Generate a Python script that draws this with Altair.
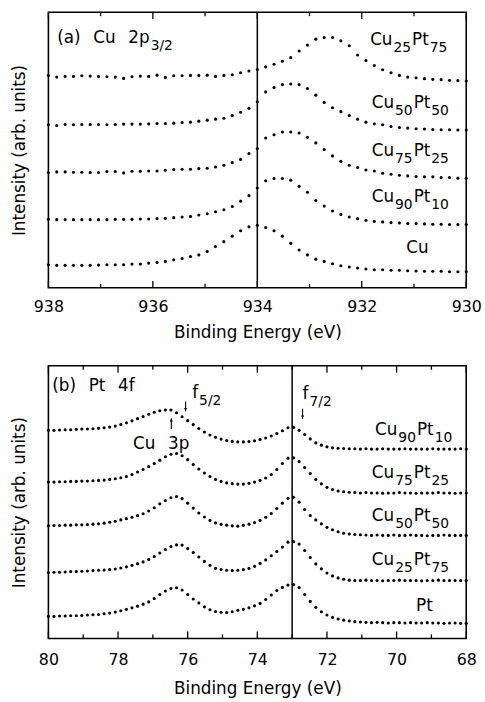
import altair as alt
import pandas as pd

FONT = "DejaVu Sans"

# ---------------- panel (a): Cu 2p3/2 ----------------
energy_a = [938.00, 937.84, 937.68, 937.52, 937.36, 937.20, 937.04, 936.88, 936.72, 936.56,
            936.40, 936.24, 936.08, 935.92, 935.76, 935.60, 935.44, 935.28, 935.12, 934.96,
            934.80, 934.64, 934.48, 934.32, 934.16, 934.00, 933.84, 933.68, 933.52, 933.36,
            933.20, 933.04, 932.88, 932.72, 932.56, 932.40, 932.24, 932.08, 931.92, 931.76,
            931.60, 931.44, 931.28, 931.12, 930.96, 930.80, 930.64, 930.48, 930.32, 930.16,
            930.00]

cu25pt75_a = [215.0, 213.3, 214.0, 214.0, 214.7, 214.3, 214.0, 213.7, 213.3, 212.0,
              213.7, 214.3, 214.0, 215.3, 213.0, 214.7, 214.7, 215.0, 215.0, 215.3,
              214.0, 215.0, 215.7, 217.7, 219.5, 221.0, 223.7, 226.3, 229.3, 233.0,
              239.7, 245.7, 251.7, 253.3, 253.3, 250.0, 245.0, 235.7, 230.0, 225.0,
              220.7, 217.7, 215.0, 213.3, 212.7, 211.7, 211.0, 210.7, 210.0, 209.7, 209.3]
cu50pt50_a = [165.0, 164.3, 165.3, 165.0, 165.3, 165.3, 165.3, 165.0, 165.3, 165.7,
              165.7, 165.7, 166.0, 166.3, 166.3, 166.7, 167.3, 167.7, 168.7, 169.7,
              170.7, 171.7, 174.3, 177.7, 181.7, 188.3, 198.3, 202.7, 205.7, 206.3,
              205.7, 201.7, 195.0, 187.7, 182.3, 178.3, 174.3, 170.7, 167.7, 166.0,
              165.0, 163.3, 162.3, 161.7, 161.0, 160.7, 160.3, 160.0, 160.0, 159.7, 159.7]
cu75pt25_a = [116.7, 117.3, 117.3, 117.0, 117.0, 116.7, 116.7, 117.7, 117.7, 116.3,
              118.0, 118.0, 118.3, 118.3, 119.0, 119.7, 120.0, 120.0, 120.7, 121.0,
              122.3, 124.0, 126.7, 130.0, 136.0, 141.0, 151.7, 155.0, 157.7, 157.7,
              156.7, 152.3, 146.7, 140.0, 133.5, 128.0, 124.0, 121.7, 119.3, 118.3,
              116.0, 115.0, 114.0, 113.3, 112.7, 112.3, 112.3, 111.7, 111.7, 111.0, 111.0]
cu90pt10_a = [69.3, 69.0, 69.0, 69.0, 69.0, 69.0, 69.0, 69.0, 69.3, 69.3,
              69.3, 69.7, 69.7, 70.0, 70.3, 71.0, 71.7, 72.3, 73.7, 75.0,
              77.0, 79.0, 82.3, 87.7, 93.3, 101.0, 108.3, 110.7, 110.7, 109.0,
              102.7, 96.7, 88.3, 82.7, 77.7, 74.3, 71.7, 70.0, 68.3, 67.3,
              66.7, 66.0, 65.7, 65.0, 65.0, 64.7, 64.3, 64.3, 64.0, 64.0, 64.0]
cu_a = [23.3, 22.7, 22.7, 22.7, 22.7, 22.7, 23.0, 23.3, 23.3, 23.3,
        24.0, 24.0, 25.0, 25.7, 26.7, 28.3, 29.7, 31.7, 33.3, 36.7,
        41.7, 46.7, 52.3, 57.7, 61.7, 63.3, 61.0, 57.7, 52.3, 45.0,
        38.3, 33.3, 29.0, 26.7, 24.3, 22.3, 21.0, 20.0, 19.0, 18.3,
        18.3, 17.7, 17.7, 17.3, 17.0, 16.7, 16.7, 16.7, 16.3, 16.3, 16.3]

names_a = ["Cu25Pt75", "Cu50Pt50", "Cu75Pt25", "Cu90Pt10", "Cu"]
series_a = [cu25pt75_a, cu50pt50_a, cu75pt25_a, cu90pt10_a, cu_a]
major_a = [938, 936, 934, 932, 930]
minor_a = [937, 935, 933, 931]
ref_a = [934]

# ---------------- panel (b): Pt 4f ----------------
energy_b = [80.00, 79.84, 79.68, 79.52, 79.36, 79.20, 79.04, 78.88, 78.72, 78.56,
            78.40, 78.24, 78.08, 77.92, 77.76, 77.60, 77.44, 77.28, 77.12, 76.96,
            76.80, 76.64, 76.48, 76.32, 76.16, 76.00, 75.84, 75.68, 75.52, 75.36,
            75.20, 75.04, 74.88, 74.72, 74.56, 74.40, 74.24, 74.08, 73.92, 73.76,
            73.60, 73.44, 73.28, 73.12, 72.96, 72.80, 72.64, 72.48, 72.32, 72.16,
            72.00, 71.84, 71.68, 71.52, 71.36, 71.20, 71.04, 70.88, 70.72, 70.56,
            70.40, 70.24, 70.08, 69.92, 69.76, 69.60, 69.44, 69.28, 69.12, 68.96,
            68.80, 68.64, 68.48, 68.32, 68.16, 68.00]

cu90pt10_b = [210.7, 210.7, 211.0, 211.3, 211.3, 211.7, 212.0, 212.0, 212.3, 212.7,
              213.3, 214.0, 215.0, 216.5, 218.3, 220.3, 222.5, 224.7, 227.0, 229.0,
              230.5, 231.3, 231.3, 228.5, 224.5, 220.5, 216.5, 212.5, 209.0, 206.0,
              203.7, 201.8, 200.3, 199.5, 199.0, 199.0, 199.3, 200.2, 201.5, 203.0,
              205.0, 207.5, 210.3, 213.3, 213.7, 210.7, 206.5, 202.0, 198.0, 195.7,
              194.0, 193.0, 192.5, 192.3, 192.0, 192.0, 191.7, 192.0, 191.7, 191.7,
              192.0, 191.7, 191.7, 191.7, 192.0, 191.7, 191.7, 191.7, 191.7, 192.0,
              191.7, 191.7, 191.7, 191.7, 192.0, 191.7]
cu75pt25_b = [158.3, 158.3, 158.7, 158.7, 159.0, 159.0, 159.3, 159.3, 159.7, 160.0,
              160.3, 161.0, 161.7, 162.7, 164.0, 166.0, 168.5, 171.0, 174.0, 177.0,
              180.5, 184.0, 186.5, 187.3, 185.0, 181.0, 176.0, 171.5, 167.5, 164.0,
              161.0, 159.0, 157.5, 156.7, 156.3, 156.3, 157.0, 158.3, 160.0, 162.5,
              166.0, 171.0, 177.0, 182.5, 183.0, 179.0, 173.0, 167.0, 161.0, 156.5,
              153.0, 150.7, 149.3, 148.5, 148.0, 147.7, 147.3, 147.7, 147.3, 147.3,
              147.0, 147.3, 147.3, 147.7, 147.3, 147.3, 147.0, 147.3, 147.3, 147.3,
              147.7, 147.3, 147.3, 147.0, 147.3, 147.3]
cu50pt50_b = [114.0, 114.3, 114.3, 114.7, 114.7, 115.0, 115.0, 115.3, 115.7, 116.0,
              116.7, 117.7, 118.7, 120.0, 121.3, 122.7, 124.3, 126.3, 129.0, 132.3,
              136.3, 139.7, 142.5, 143.7, 141.5, 137.0, 132.0, 127.0, 123.0, 119.5,
              117.0, 115.5, 114.7, 114.0, 113.7, 114.5, 115.7, 117.3, 119.5, 122.7,
              126.5, 131.5, 137.0, 142.0, 143.0, 138.0, 130.5, 124.5, 120.0, 116.0,
              112.5, 110.0, 108.0, 106.5, 105.7, 105.3, 105.0, 104.7, 104.3, 104.7,
              104.3, 104.3, 104.7, 104.3, 104.3, 104.7, 104.3, 104.3, 104.0, 104.3,
              104.3, 104.7, 104.3, 104.3, 104.3, 104.3]
cu25pt75_b = [66.7, 67.0, 67.0, 67.3, 67.7, 67.7, 68.0, 68.3, 68.7, 69.0,
              69.3, 69.7, 70.3, 71.3, 72.5, 74.0, 75.7, 77.5, 80.0, 83.0,
              86.5, 90.0, 93.0, 94.7, 94.5, 91.0, 87.0, 82.5, 78.0, 74.0,
              71.0, 69.7, 69.0, 68.7, 69.0, 69.7, 71.0, 73.0, 76.0, 79.5,
              83.7, 88.0, 92.5, 97.5, 98.0, 95.5, 89.0, 82.0, 75.5, 70.5,
              66.3, 63.3, 61.3, 60.0, 59.0, 58.7, 58.7, 59.0, 58.7, 58.7,
              58.3, 58.7, 58.7, 59.0, 58.7, 58.7, 58.7, 58.3, 58.7, 58.7,
              59.0, 58.7, 58.7, 58.7, 58.7, 58.7]
pt_b = [22.3, 22.3, 22.7, 22.7, 23.0, 23.0, 23.3, 23.7, 24.0, 24.3,
        25.0, 25.7, 26.7, 28.0, 29.5, 31.0, 32.7, 34.7, 37.0, 40.5,
        44.5, 48.0, 50.5, 51.3, 49.0, 44.5, 40.0, 36.0, 32.0, 29.0,
        27.3, 26.5, 26.3, 27.0, 28.5, 29.5, 31.0, 33.0, 35.5, 39.5,
        44.0, 48.5, 51.7, 54.0, 54.5, 51.5, 44.5, 37.5, 31.5, 27.0,
        23.7, 21.3, 19.7, 18.5, 17.7, 17.0, 16.7, 16.3, 16.0, 16.3,
        16.0, 15.7, 16.0, 16.0, 15.7, 16.0, 15.7, 15.7, 16.0, 15.7,
        15.7, 15.3, 15.7, 15.7, 15.3, 15.3]

names_b = ["Cu90Pt10", "Cu75Pt25", "Cu50Pt50", "Cu25Pt75", "Pt"]
series_b = [cu90pt10_b, cu75pt25_b, cu50pt50_b, cu25pt75_b, pt_b]
major_b = [80, 78, 76, 74, 72, 70, 68]
minor_b = [79, 77, 75, 73, 71, 69]
ref_b = [73]

# ---------------- annotations (anchor energy, anchor intensity, pieces) ----------------
# piece kind: "n" normal text, "s" subscript
labels_a = [
    (937.83, 247.5, [("(a)", "n"), ("  ", "n"), ("Cu", "n"), ("  ", "n"), ("2p", "n"), ("3/2", "s")]),
    (931.84, 246.0, [("Cu", "n"), ("25", "s"), ("Pt", "n"), ("75", "s")]),
    (931.81, 181.7, [("Cu", "n"), ("50", "s"), ("Pt", "n"), ("50", "s")]),
    (931.81, 133.3, [("Cu", "n"), ("75", "s"), ("Pt", "n"), ("25", "s")]),
    (931.81, 86.7, [("Cu", "n"), ("90", "s"), ("Pt", "n"), ("10", "s")]),
    (931.15, 35.7, [("Cu", "n")]),
]
arrows_a = []

labels_b = [
    (79.89, 250.7, [("(b)", "n"), ("  ", "n"), ("Pt", "n"), ("  ", "n"), ("4f", "n")]),
    (75.87, 243.0, [("f", "n"), ("5/2", "s")]),
    (72.70, 242.3, [("f", "n"), ("7/2", "s")]),
    (77.57, 192.0, [("Cu", "n"), ("  ", "n"), ("3p", "n")]),
    (70.62, 206.0, [("Cu", "n"), ("90", "s"), ("Pt", "n"), ("10", "s")]),
    (70.71, 162.0, [("Cu", "n"), ("75", "s"), ("Pt", "n"), ("25", "s")]),
    (70.71, 119.0, [("Cu", "n"), ("50", "s"), ("Pt", "n"), ("50", "s")]),
    (70.71, 74.0, [("Cu", "n"), ("25", "s"), ("Pt", "n"), ("75", "s")]),
    (69.44, 27.3, [("Pt", "n")]),
]
# arrows: energy, tail intensity, tip intensity
arrows_b = [
    (76.06, 240.0, 230.0),
    (72.70, 232.5, 222.3),
    (76.47, 212.0, 223.0),
]

# ---------------- helpers ----------------
EM = {"C": 0.698, "u": 0.634, "P": 0.603, "t": 0.392, "/": 0.337, "(": 0.390, ")": 0.390,
      "a": 0.613, "b": 0.635, "p": 0.635, "f": 0.352, " ": 0.318}
for d in "0123456789":
    EM[d] = 0.636
SIZE_N, SIZE_S, SUB_DY, GAP = 17, 14, 7, 1.0


def text_width(s, size):
    return sum(EM.get(c, 0.6) for c in s) * size


def panel(energy, series, names, xdom, ydom, major, minor, ref, labels, arrows,
          W, H, label_pad, title_pad):
    xs = alt.Scale(domain=xdom, reverse=True, nice=False, zero=False)
    ys = alt.Scale(domain=ydom, nice=False, zero=False)
    rows = []
    for name, vals in zip(names, series):
        for e, v in zip(energy, vals):
            rows.append({"series": name, "energy": e, "intensity": v})
    df = pd.DataFrame(rows)

    dots = alt.Chart(df).mark_circle(size=10, color="black", opacity=1).encode(
        x=alt.X("energy:Q", scale=xs,
                axis=alt.Axis(values=major, format="d", title="Binding Energy (eV)",
                              labelPadding=label_pad, titlePadding=title_pad)),
        y=alt.Y("intensity:Q", scale=ys,
                axis=alt.Axis(title="Intensity (arb. units)", labels=False, titlePadding=20)),
        detail="series:N",
    )
    layers = [dots]

    # vertical reference line
    layers.append(alt.Chart(pd.DataFrame({"energy": ref})).mark_rule(
        color="black", strokeWidth=1.5).encode(
        x=alt.X("energy:Q", scale=xs), y=alt.value(0), y2=alt.value(H)))

    # inward ticks on top and bottom edges
    for vals, length in ((major, 7), (minor, 4)):
        d = pd.DataFrame({"energy": vals})
        layers.append(alt.Chart(d).mark_rule(color="black", strokeWidth=1.3).encode(
            x=alt.X("energy:Q", scale=xs), y=alt.value(0), y2=alt.value(length)))
        layers.append(alt.Chart(d).mark_rule(color="black", strokeWidth=1.3).encode(
            x=alt.X("energy:Q", scale=xs), y=alt.value(H), y2=alt.value(H - length)))

    # text labels with subscripts
    for e, inten, pieces in labels:
        cursor = 0.0
        for txt, kind in pieces:
            size = SIZE_N if kind == "n" else SIZE_S
            dy = 0 if kind == "n" else SUB_DY
            if txt.strip():
                d = pd.DataFrame({"energy": [e], "intensity": [inten], "t": [txt]})
                layers.append(alt.Chart(d).mark_text(
                    align="left", baseline="alphabetic", dx=cursor, dy=dy,
                    fontSize=size, font=FONT, color="black").encode(
                    x=alt.X("energy:Q", scale=xs), y=alt.Y("intensity:Q", scale=ys),
                    text="t:N"))
            cursor += text_width(txt, size) + GAP

    # small annotation arrows: shaft + head
    for e, tail, tip in arrows:
        d = pd.DataFrame({"energy": [e], "tail": [tail], "tip": [tip]})
        layers.append(alt.Chart(d).mark_rule(color="black", strokeWidth=1.1).encode(
            x=alt.X("energy:Q", scale=xs), y=alt.Y("tail:Q", scale=ys), y2="tip:Q"))
        shape = "triangle-down" if tip < tail else "triangle-up"
        layers.append(alt.Chart(d).mark_point(
            shape=shape, filled=True, size=10, color="black", opacity=1,
            yOffset=-2 if tip < tail else 2).encode(
            x=alt.X("energy:Q", scale=xs), y=alt.Y("tip:Q", scale=ys)))

    return alt.layer(*layers).properties(width=W, height=H)


top = panel(energy_a, series_a, names_a, [930, 938], [0, 279], major_a, minor_a, ref_a,
            labels_a, arrows_a, 423, 279, 11, 10)
bottom = panel(energy_b, series_b, names_b, [68, 80], [0, 276], major_b, minor_b, ref_b,
               labels_b, arrows_b, 423, 276, 13, 14)

chart = alt.vconcat(top, bottom, spacing=23).properties(
    padding={"left": 10, "top": 6, "right": 2, "bottom": 2},
    background="white",
).configure_view(
    stroke="black", strokeWidth=1.6
).configure_axis(
    grid=False, ticks=False, domain=False,
    labelFont=FONT, labelFontSize=16, labelColor="black",
    titleFont=FONT, titleFontSize=17, titleFontWeight="normal", titleColor="black",
).configure_axisX(labelFlush=False)

chart.save("out.html", embed_options={"renderer": "svg", "actions": False})
